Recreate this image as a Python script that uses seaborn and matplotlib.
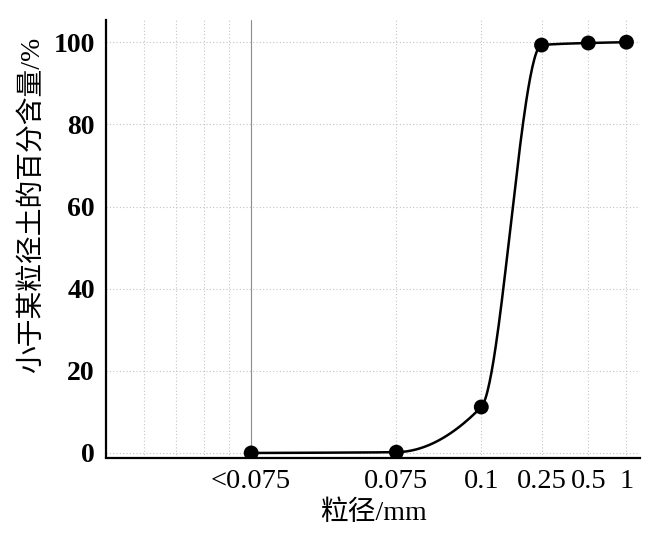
import numpy as np
import matplotlib
matplotlib.use('Agg')
import matplotlib.pyplot as plt
import seaborn as sns
from matplotlib.ticker import FixedLocator, NullFormatter

# Grain size categories (tick labels) and their slots on the log axis
size_labels = ['<0.075', '0.075', '0.1', '0.25', '0.5', '1']
size_pos = [10, 20, 30, 40, 50, 60]
# Percent passing (smaller than given grain size), %
passing = [0.0, 0.2, 11.2, 99.3, 99.8, 100.0]


def pchip(x, y, n=60):
    # monotone cubic (Fritsch-Carlson) through the points, used only to draw a smooth line
    x = np.asarray(x, float)
    y = np.asarray(y, float)
    h = np.diff(x)
    d = np.diff(y) / h
    m = np.zeros_like(y)
    for k in range(1, len(x) - 1):
        if d[k - 1] * d[k] > 0:
            w1 = 2 * h[k] + h[k - 1]
            w2 = h[k] + 2 * h[k - 1]
            m[k] = (w1 + w2) / (w1 / d[k - 1] + w2 / d[k])
    m[0] = d[0]
    m[-1] = d[-1]
    xs, ys = [], []
    for k in range(len(h)):
        t = np.linspace(0, 1, n)
        h00 = 2 * t**3 - 3 * t**2 + 1
        h10 = t**3 - 2 * t**2 + t
        h01 = -2 * t**3 + 3 * t**2
        h11 = t**3 - t**2
        xs.append(x[k] + t * h[k])
        ys.append(h00 * y[k] + h10 * h[k] * m[k] + h01 * y[k + 1] + h11 * h[k] * m[k + 1])
    return np.concatenate(xs), np.concatenate(ys)


sns.set_style('white')
plt.rcParams['font.family'] = ['Liberation Serif', 'Noto Sans CJK SC']
plt.rcParams['axes.unicode_minus'] = False
plt.rcParams['text.color'] = 'black'
plt.rcParams['xtick.color'] = 'black'
plt.rcParams['ytick.color'] = 'black'
plt.rcParams['axes.labelcolor'] = 'black'

fig = plt.figure(figsize=(6.5, 5.51), dpi=100)
ax = fig.add_axes([106 / 650, 1 - 457.5 / 551, 534 / 650, 437.5 / 551])
ax.set_xscale('log')

lx, ly = pchip(np.log10(size_pos), passing)
sns.lineplot(x=10 ** lx, y=ly, color='black', linewidth=1.8, ax=ax,
             sort=False, estimator=None, zorder=3)
sns.scatterplot(x=size_pos, y=passing, color='black', s=115, edgecolor='none',
                ax=ax, zorder=4)

ax.set_xlim(5, 64)
ax.set_ylim(-1.1, 105.4)

ax.xaxis.set_major_locator(FixedLocator(size_pos))
ax.set_xticklabels(size_labels, fontsize=20.5)
ax.xaxis.set_minor_locator(FixedLocator([6, 7, 8, 9]))
ax.xaxis.set_minor_formatter(NullFormatter())

ax.set_yticks([0, 20, 40, 60, 80, 100])
ax.set_yticklabels(['0', '20', '40', '60', '80', '100'], fontsize=20, fontweight='bold')
ax.yaxis.set_minor_locator(FixedLocator([10, 30, 50, 70, 90]))

ax.tick_params(axis='y', which='major', direction='in', length=7, width=1.5, pad=8)
ax.tick_params(axis='y', which='minor', direction='in', length=4, width=1.5)
ax.tick_params(axis='x', which='both', direction='in', length=3, width=1.2, pad=8)

grid_kw = dict(color='#c4c4c4', linestyle=(0, (1, 2)), linewidth=0.8)
ax.grid(True, axis='x', which='both', **grid_kw)
ax.grid(True, axis='y', which='major', **grid_kw)
ax.set_axisbelow(True)
first = ax.xaxis.get_major_ticks()[0].gridline
first.set_linestyle('-')
first.set_color('#8c8c8c')
first.set_linewidth(0.8)

for s in ['top', 'right']:
    ax.spines[s].set_visible(False)
for s in ['left', 'bottom']:
    ax.spines[s].set_linewidth(1.6)
    ax.spines[s].set_color('black')

ax.set_xlabel('粒径/mm', fontsize=20)
ax.set_ylabel('小于某粒径土的百分含量/%', fontsize=20)
ax.xaxis.set_label_coords(0.5, -0.097)
ax.yaxis.set_label_coords(-0.114, 0.577)

fig.savefig('out.png', dpi=100)
